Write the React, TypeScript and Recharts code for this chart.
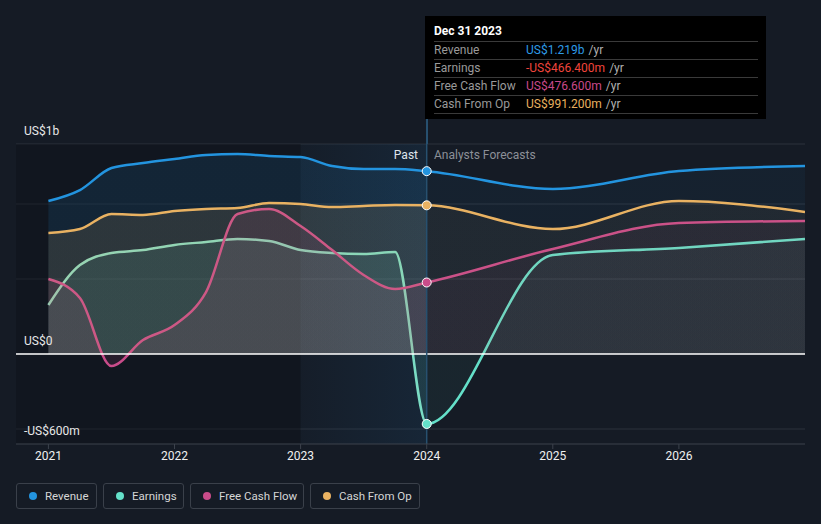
import React from 'react';
import {
	ComposedChart,
	Area,
	XAxis,
	YAxis,
	CartesianGrid,
	ReferenceLine,
	ReferenceArea,
	ReferenceDot,
} from 'recharts';

// quarterly trailing values up to Dec 2023, then yearly analyst forecasts (US$m)
const periods = [
	2021, 2021.25, 2021.5, 2021.75, 2022, 2022.25, 2022.5, 2022.75, 2023, 2023.25, 2023.5, 2023.75, 2024,
	2025, 2026, 2027,
];
const revenue = [1020, 1093, 1240, 1273, 1300, 1327, 1333, 1320, 1313, 1253, 1233, 1233, 1219, 1100, 1220, 1253];
const earnings = [327, 593, 673, 693, 727, 747, 767, 753, 693, 673, 667, 680, -466.4, 660, 707, 767];
const freeCashFlow = [500, 373, -80, 93, 193, 413, 933, 967, 853, 693, 527, 433, 476.6, 700, 873, 887];
const cashFromOp = [807, 833, 933, 927, 953, 967, 973, 1007, 1000, 980, 987, 993, 991.2, 833, 1020, 947];

const yearTicks = [2021, 2022, 2023, 2024, 2025, 2026];
const yTicks = [-600, 0, 1400];
const yTickLabels = ['-US$600m', 'US$0', 'US$1b'];
const gridValues = [1400, 1000, 500, -500];
const legendWidths = [81, 81, 114, 110];

const X_START = 2020.743;
const X_END = 2027;
const NOW = 2024;
const PAST_START = 2023;

const series = [
	{ key: 'revenue', name: 'Revenue', color: '#2394df', values: revenue, tip: 'US$1.219b', tipColor: '#2d9be6' },
	{ key: 'earnings', name: 'Earnings', color: '#64e0c9', values: earnings, tip: '-US$466.400m', tipColor: '#f0453c' },
	{ key: 'fcf', name: 'Free Cash Flow', color: '#c94c8a', values: freeCashFlow, tip: 'US$476.600m', tipColor: '#c9498a' },
	{ key: 'cfo', name: 'Cash From Op', color: '#e9b262', values: cashFromOp, tip: 'US$991.200m', tipColor: '#e8b05f' },
];

const data = periods.map((t, i) => {
	const row: Record<string, number> = { t };
	series.forEach((s) => (row[s.key] = s.values[i]));
	return row;
});
const nowIndex = periods.indexOf(NOW);

const FONT = 'Roboto, "Noto Sans", sans-serif';

const renderYTick = (props: any) => {
	const { y, payload } = props;
	const label = yTickLabels[yTicks.indexOf(payload.value)];
	return (
		<text x={24} y={y - 12} dominantBaseline="middle" fill="#e8e8e8" fontSize={12} fontFamily={FONT}>
			{label}
		</text>
	);
};

export default function App() {
	const nowOffset = (NOW - periods[0]) / (periods[periods.length - 1] - periods[0]);
	return (
		<div
			style={{
				position: 'fixed',
				left: 0,
				top: 0,
				width: 821,
				height: 524,
				background: '#151b25',
				fontFamily: FONT,
				overflow: 'hidden',
			}}
		>
			<ComposedChart width={821} height={524} data={data} margin={{ top: 144, right: 16, bottom: 50, left: 15 }}>
				<defs>
					<linearGradient id="pastHi" x1="0" y1="0" x2="1" y2="0">
						<stop offset="0%" stopColor="#1f5a8a" stopOpacity={0.08} />
						<stop offset="100%" stopColor="#1f5a8a" stopOpacity={0.35} />
					</linearGradient>
					{series.map((s) => (
						<linearGradient key={s.key} id={`fill-${s.key}`} x1="0" y1="0" x2="1" y2="0">
							<stop offset="0%" stopColor={s.color} stopOpacity={0.2} />
							<stop offset={`${nowOffset * 100}%`} stopColor={s.color} stopOpacity={0.2} />
							<stop offset={`${nowOffset * 100}%`} stopColor={s.color} stopOpacity={0.09} />
							<stop offset="100%" stopColor={s.color} stopOpacity={0.09} />
						</linearGradient>
					))}
					<linearGradient id="stroke-earnings" x1="0" y1="0" x2="1" y2="0">
						<stop offset="0%" stopColor="#8dd8bd" />
						<stop offset={`${nowOffset * 100}%`} stopColor="#7adcc4" />
						<stop offset={`${nowOffset * 100}%`} stopColor="#64e0c9" />
						<stop offset="100%" stopColor="#64e0c9" />
					</linearGradient>
				</defs>
				<ReferenceArea x1={X_START} x2={PAST_START} y1={-600} y2={1400} fill="#0c0f14" fillOpacity={0.35} stroke="none" />
				<ReferenceArea x1={PAST_START} x2={NOW} y1={-600} y2={1400} fill="url(#pastHi)" stroke="none" />
				<CartesianGrid horizontal vertical={false} horizontalValues={gridValues} stroke="#2c323c" strokeWidth={1} />
				<XAxis
					dataKey="t"
					type="number"
					domain={[X_START, X_END]}
					ticks={yearTicks}
					allowDataOverflow
					height={30}
					stroke="#3c424c"
					tickSize={5}
					tick={{ fill: '#f0f0f0', fontSize: 12, fontFamily: FONT }}
					tickFormatter={(v) => String(v)}
				/>
				<YAxis
					type="number"
					domain={[-600, 1400]}
					ticks={yTicks}
					interval={0}
					width={1}
					axisLine={false}
					tickLine={false}
					tick={renderYTick}
				/>
				{series.map((s) => (
					<Area
						key={s.key}
						type="monotone"
						dataKey={s.key}
						stroke={s.key === 'earnings' ? 'url(#stroke-earnings)' : s.color}
						strokeWidth={2.5}
						fill={`url(#fill-${s.key})`}
						dot={false}
						activeDot={false}
						isAnimationActive={false}
					/>
				))}
				<ReferenceLine y={0} stroke="#ffffff" strokeWidth={1.5} />
				<ReferenceLine x={NOW} stroke="#27506f" strokeWidth={1.5} />
				{series.map((s) => (
					<ReferenceDot
						key={s.key}
						x={NOW}
						y={s.values[nowIndex]}
						r={4.5}
						fill={s.color}
						stroke="#ffffff"
						strokeWidth={1}
					/>
				))}
				<text x={418} y={156} textAnchor="end" dominantBaseline="middle" fill="#ffffff" fontSize={12} fontFamily={FONT}>
					Past
				</text>
				<text x={434} y={156} dominantBaseline="middle" fill="#8c9098" fontSize={12} fontFamily={FONT}>
					Analysts Forecasts
				</text>
			</ComposedChart>

			{/* connector from the tooltip down to the chart */}
			<div style={{ position: 'absolute', left: 426, top: 110, width: 1.5, height: 34, background: '#27506f' }} />

			<div
				style={{
					position: 'absolute',
					left: 425,
					top: 16,
					width: 341,
					height: 103,
					background: '#000000',
					boxSizing: 'border-box',
					padding: '0 8px 0 9px',
					fontSize: 12,
				}}
			>
				<div style={{ color: '#ffffff', fontWeight: 'bold', fontSize: 12, height: 25, lineHeight: '31px' }}>Dec 31 2023</div>
				{series.map((s) => (
					<div
						key={s.key}
						style={{
							display: 'flex',
							height: 17,
							lineHeight: '17px',
							borderTop: '1px solid #3a3a3a',
							borderBottom: s.key === 'cfo' ? '1px solid #3a3a3a' : undefined,
						}}
					>
						<span style={{ width: 92, color: '#9a9a9a' }}>{s.name}</span>
						<span style={{ color: s.tipColor }}>{s.tip}</span>
						<span style={{ color: '#b0b0b0', marginLeft: 4 }}>/yr</span>
					</div>
				))}
			</div>

			<div style={{ position: 'absolute', left: 16, top: 483, display: 'flex', gap: 6 }}>
				{series.map((s, i) => (
					<div
						key={s.key}
						style={{
							display: 'flex',
							alignItems: 'center',
							boxSizing: 'border-box',
							width: legendWidths[i],
							height: 26,
							paddingLeft: 12,
							border: '1px solid #3a404a',
							borderRadius: 3,
							color: '#d6d6d6',
							fontSize: 11.5,
							whiteSpace: 'nowrap',
						}}
					>
						<span
							style={{ width: 8, height: 8, borderRadius: 4, background: s.color, marginRight: 8, display: 'inline-block' }}
						/>
						{s.name}
					</div>
				))}
			</div>
		</div>
	);
}
